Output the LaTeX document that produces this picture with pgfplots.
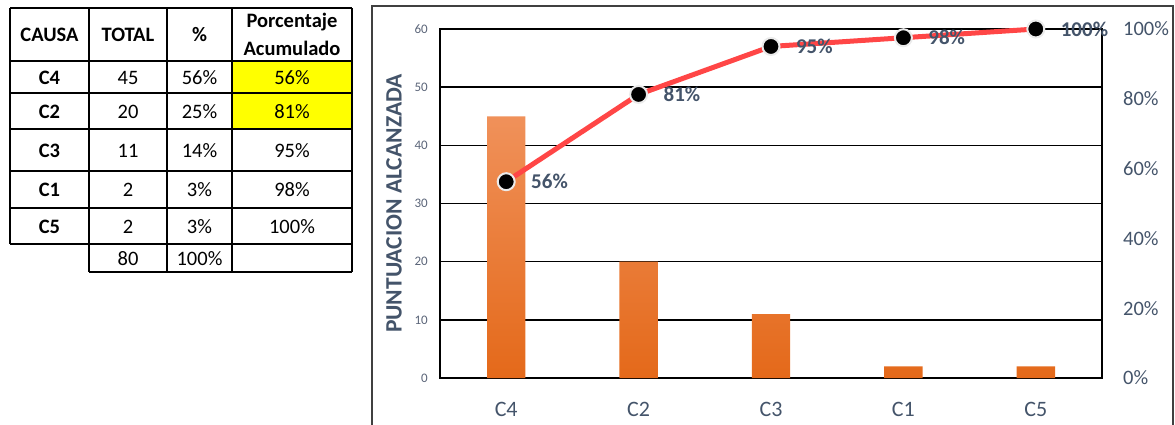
\documentclass[border=0pt]{standalone}
\usepackage{pgfplots}
\pgfplotsset{compat=1.18}
\usepackage{fontspec}
\setmainfont{Carlito}
\definecolor{txt}{HTML}{44546A}
\definecolor{tickc}{HTML}{5A6478}
\definecolor{bartop}{HTML}{F0915A}
\definecolor{barmid}{HTML}{F17D2D}
\definecolor{barbot}{HTML}{E4691A}
\definecolor{lred}{HTML}{FF4646}
\definecolor{yel}{HTML}{FFFF00}
\begin{document}
\begin{tikzpicture}
\useasboundingbox (0pt,0pt) rectangle (1175pt,-424pt);
% ---------- table ----------
\begin{scope}[x=1pt,y=1pt]
\fill[yel] (232,-61) rectangle (352,-129);
\begin{scope}[line width=1.8pt]
\foreach \yy in {8,61,93,129,171,208,244} \draw (10,-\yy) -- (352,-\yy);
\draw (89,-272) -- (352,-272);
\draw (10,-8) -- (10,-244);
\foreach \xx in {89,167,232,352} \draw (\xx,-8) -- (\xx,-272);
\end{scope}
\begin{scope}[every node/.style={font=\fontsize{20.5}{26}\selectfont, inner sep=0pt, anchor=center}]
\node[font=\bfseries\fontsize{20.5}{26}\selectfont] at (49.5,-35) {CAUSA};
\node[font=\bfseries\fontsize{20.5}{26}\selectfont] at (128,-35) {TOTAL};
\node[font=\bfseries\fontsize{20.5}{26}\selectfont] at (199.5,-35) {\%};
\node[font=\bfseries\fontsize{20.5}{26}\selectfont] at (292,-22) {Porcentaje};
\node[font=\bfseries\fontsize{20.5}{26}\selectfont] at (292,-48.5) {Acumulado};
\node[font=\bfseries\fontsize{20.5}{26}\selectfont] at (49.5,-78) {C4};
\node[font=\bfseries\fontsize{20.5}{26}\selectfont] at (49.5,-112) {C2};
\node[font=\bfseries\fontsize{20.5}{26}\selectfont] at (49.5,-151) {C3};
\node[font=\bfseries\fontsize{20.5}{26}\selectfont] at (49.5,-190) {C1};
\node[font=\bfseries\fontsize{20.5}{26}\selectfont] at (49.5,-227) {C5};
\node at (128,-78) {45};   \node at (199.5,-78) {56\%};  \node at (292,-78) {56\%};
\node at (128,-112) {20};  \node at (199.5,-112) {25\%}; \node at (292,-112) {81\%};
\node at (128,-151) {11};  \node at (199.5,-151) {14\%}; \node at (292,-151) {95\%};
\node at (128,-190) {2};   \node at (199.5,-190) {3\%};  \node at (292,-190) {98\%};
\node at (128,-227) {2};   \node at (199.5,-227) {3\%};  \node at (292,-227) {100\%};
\node at (128,-258.5) {80}; \node at (199.5,-258.5) {100\%};
\end{scope}
% chart frame
\draw[black!75, line width=1.2pt] (372,-440) -- (372,-6) -- (1173,-6) -- (1173,-440);
\node[rotate=90, font=\bfseries\fontsize{23.5}{28}\selectfont, text=txt, inner sep=0pt] at (394,-203.5) {PUNTUACION ALCANZADA};
\end{scope}
% ---------- bars ----------
\begin{axis}[
  at={(440pt,-378pt)}, anchor=south west, scale only axis,
  width=662pt, height=349pt,
  xmin=-0.5, xmax=4.5, ymin=0, ymax=60,
  ybar, bar width=0.29,
  xtick={0,1,2,3,4}, xticklabels={C4,C2,C3,C1,C5},
  ytick={0,10,...,60},
  ymajorgrids, grid style={black, line width=1.6pt},
  axis line style={black, line width=2pt},
  major tick length=0pt, tick style={draw=none},
  /pgf/number format/assume math mode=true,
  xticklabel style={font=\fontsize{22}{26}\selectfont, text=txt, anchor=center, inner sep=0pt, yshift=-31pt},
  yticklabel style={font=\fontsize{13}{15}\selectfont, text=tickc, anchor=east, inner sep=0pt, xshift=-12pt},
]
\addplot[draw=none, top color=bartop, middle color=barmid, bottom color=barbot] coordinates {(0,45) (1,20) (2,11) (3,2) (4,2)};
\end{axis}
% ---------- cumulative line ----------
\begin{axis}[
  at={(440pt,-378pt)}, anchor=south west, scale only axis,
  width=662pt, height=349pt,
  xmin=-0.5, xmax=4.5, ymin=0, ymax=100,
  axis x line=none, axis y line*=right, y axis line style={draw=none},
  ytick={0,20,...,100}, yticklabel={\pgfmathprintnumber{\tick}\%},
  major tick length=0pt, tick style={draw=none},
  /pgf/number format/assume math mode=true,
  yticklabel style={font=\fontsize{20.5}{24}\selectfont, text=txt, anchor=west, inner sep=0pt, xshift=21pt},
  clip=false,
]
\addplot[lred, line width=5pt, mark=*, mark size=8.5pt,
  mark options={fill=black, draw=black!8, line width=2pt},
  point meta=explicit symbolic,
  nodes near coords={\pgfplotspointmeta\%},
  every node near coord/.style={anchor=west, inner sep=0pt, xshift=24pt, font=\bfseries\fontsize{21}{24}\selectfont, text=txt}]
  table[meta=l] {
x y l
0 56.25 56
1 81.25 81
2 95 95
3 97.5 98
4 100 100
};
\end{axis}
\end{tikzpicture}
\end{document}
